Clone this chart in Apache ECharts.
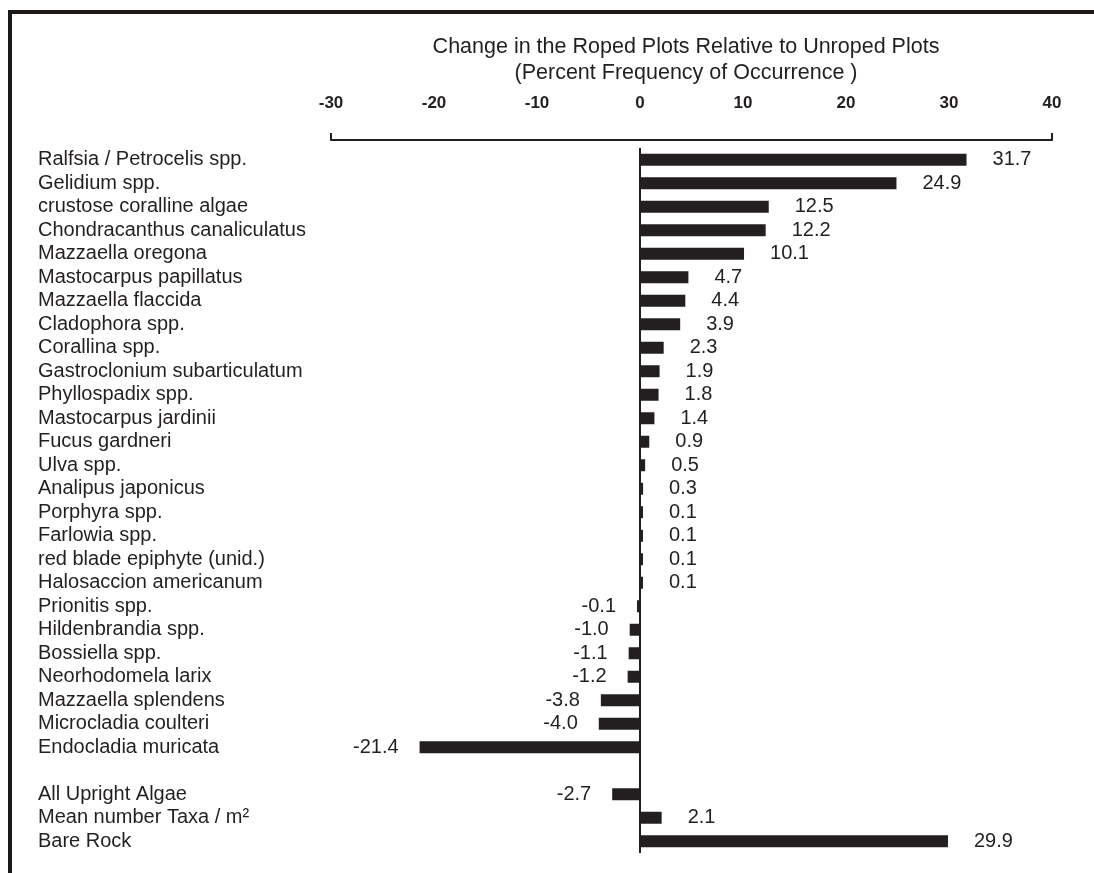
<!DOCTYPE html>
<html>
<head>
<meta charset="utf-8">
<script src="https://cdn.jsdelivr.net/npm/echarts@6/dist/echarts.min.js"></script>
<style>
  html, body { margin: 0; padding: 0; background: #ffffff; }
  #wrap { position: relative; width: 1094px; height: 873px; overflow: hidden; }
  #frame { position: absolute; left: 8px; top: 10px; right: -10px; bottom: -10px;
           border-top: 4px solid #1c1816; border-left: 4px solid #1c1816; }
  #chart { position: absolute; left: 0; top: 0; width: 1094px; height: 873px; }
</style>
</head>
<body>
<div id="wrap">
  <div id="frame"></div>
  <div id="chart"></div>
</div>
<script>
const categories = [
  'Ralfsia / Petrocelis spp.',
  'Gelidium spp.',
  'crustose coralline algae',
  'Chondracanthus canaliculatus',
  'Mazzaella oregona',
  'Mastocarpus papillatus',
  'Mazzaella flaccida',
  'Cladophora spp.',
  'Corallina spp.',
  'Gastroclonium subarticulatum',
  'Phyllospadix spp.',
  'Mastocarpus jardinii',
  'Fucus gardneri',
  'Ulva spp.',
  'Analipus japonicus',
  'Porphyra spp.',
  'Farlowia spp.',
  'red blade epiphyte (unid.)',
  'Halosaccion americanum',
  'Prionitis spp.',
  'Hildenbrandia spp.',
  'Bossiella spp.',
  'Neorhodomela larix',
  'Mazzaella splendens',
  'Microcladia coulteri',
  'Endocladia muricata',
  ' ',
  'All Upright Algae',
  'Mean number Taxa / m\u00B2',
  'Bare Rock'
];
const changeValues = [
  31.7, 24.9, 12.5, 12.2, 10.1, 4.7, 4.4, 3.9, 2.3, 1.9,
  1.8, 1.4, 0.9, 0.5, 0.3, 0.1, 0.1, 0.1, 0.1, -0.1,
  -1.0, -1.1, -1.2, -3.8, -4.0, -21.4, null, -2.7, 2.1, 29.9
];
const axisMin = -30;
const axisMax = 40;
const axisStep = 10;
const titleLines = [
  'Change in the Roped Plots Relative to Unroped Plots',
  '(Percent Frequency of Occurrence )'
];

const ink = '#231f20';
const font = '"Liberation Sans", Arial, sans-serif';

const barData = changeValues.map(v => {
  if (v === null) return null;
  return {
    value: v,
    label: { position: v < 0 ? 'left' : 'right', distance: v < 0 ? 21 : 26 }
  };
});

const chart = echarts.init(document.getElementById('chart'), null, { renderer: 'canvas' });
chart.setOption({
  animation: false,
  backgroundColor: 'transparent',
  title: {
    text: titleLines.join('\n'),
    left: 681,
    top: 29,
    textAlign: 'center',
    textStyle: { fontFamily: font, fontSize: 21.5, fontWeight: 'normal', color: ink, lineHeight: 26 }
  },
  grid: { left: 331, right: 42, top: 148, bottom: 20, containLabel: false },
  xAxis: {
    type: 'value',
    position: 'top',
    offset: 8,
    min: axisMin,
    max: axisMax,
    interval: axisStep,
    axisLine: { show: true, onZero: false, lineStyle: { color: ink, width: 2 } },
    axisTick: { show: true, customValues: [axisMin, axisMax], length: 7, lineStyle: { color: ink, width: 2 } },
    axisLabel: { margin: 28, fontFamily: font, fontSize: 17, fontWeight: 'bold', color: ink },
    splitLine: { show: false }
  },
  yAxis: {
    type: 'category',
    inverse: true,
    data: categories,
    axisLine: { show: false },
    axisTick: { show: false },
    axisLabel: { align: 'left', margin: 293, fontFamily: font, fontSize: 20, color: ink, interval: 0 }
  },
  series: [{
    type: 'bar',
    barWidth: 12,
    barMinHeight: 3,
    itemStyle: { color: ink },
    label: {
      show: true,
      fontFamily: font,
      fontSize: 20,
      color: ink,
      formatter: p => p.value.toFixed(1)
    },
    data: barData,
    markLine: {
      silent: true,
      symbol: 'none',
      label: { show: false },
      lineStyle: { color: ink, width: 2, type: 'solid' },
      data: [{ xAxis: 0 }]
    }
  }]
});
</script>
</body>
</html>
